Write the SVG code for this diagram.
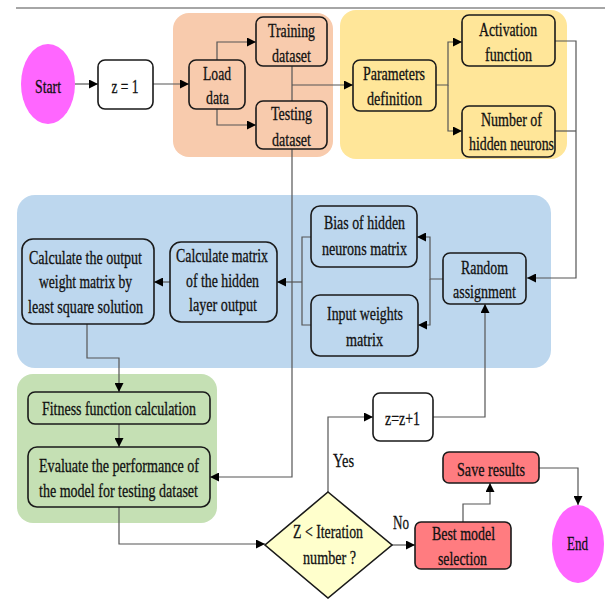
<svg xmlns="http://www.w3.org/2000/svg" width="613" height="599" viewBox="0 0 613 599">
<defs>
<style>
text{font-family:'Liberation Serif','Times New Roman',serif;font-size:19px;fill:#111;stroke:#111;stroke-width:0.3;text-anchor:middle}
.n{fill:none;stroke:#1a1a1a;stroke-width:1.6}
.w{fill:#fff;stroke:#1a1a1a;stroke-width:1.6}
.r{fill:#FF7C80;stroke:#1a1a1a;stroke-width:1.6}
.c{fill:none;stroke:#555;stroke-width:1.2}
.a{marker-end:url(#arr)}
</style>
<marker id="arr" viewBox="0 0 10 10" refX="10" refY="5" markerWidth="9" markerHeight="9" markerUnits="userSpaceOnUse" orient="auto">
<path d="M0,0 L10,5 L0,10 Z" fill="#000"/>
</marker>
</defs>
<rect width="613" height="599" fill="#fff"/>
<path d="M16,8 H605" stroke="#888" stroke-width="1.5" fill="none"/>
<g id="backgrounds">
<rect x="173" y="13" width="160" height="144" rx="16" fill="#F8CBAD"/>
<rect x="340" y="10" width="227" height="149" rx="16" fill="#FFE699"/>
<rect x="17" y="195" width="534" height="173" rx="18" fill="#BDD7EE"/>
<rect x="17" y="374" width="200" height="149" rx="16" fill="#C5E0B4"/>
</g>
<g id="connectors">
<path class="c a" d="M75,84 H98"/>
<path class="c a" d="M153,84 H189"/>
<path class="c a" d="M217,60 V42 H256"/>
<path class="c a" d="M217,109 V125 H256"/>
<path class="c" d="M292,66 V101"/>
<path class="c a" d="M292,85 H353"/>
<path class="c a" d="M292,149 V477 H210"/>
<path class="c a" d="M436,85 H448 V42 H462"/>
<path class="c a" d="M448,85 V131 H462"/>
<path class="c a" d="M555,41 H576 V278 H527"/>
<path class="c" d="M555,131 H576"/>
<path class="c a" d="M443,279 H430 V237 H417"/>
<path class="c a" d="M430,279 V325 H418"/>
<path class="c" d="M311,237 H302 V325 H311"/>
<path class="c a" d="M302,282 H277"/>
<path class="c a" d="M170,282 H154"/>
<path class="c a" d="M87,324 V358 H119 V392"/>
<path class="c a" d="M119,424 V447"/>
<path class="c a" d="M119,507 V544 H265"/>
<path class="c a" d="M328,492 V417 H373"/>
<path class="c a" d="M433,417 H485 V304"/>
<path class="c a" d="M392,545 H415"/>
<path class="c a" d="M463,522 V504 H490 V483"/>
<path class="c a" d="M539,468 H578 V505"/>
<text x="343.5" y="467" textLength="21" lengthAdjust="spacingAndGlyphs">Yes</text>
<text x="401" y="529" textLength="16" lengthAdjust="spacingAndGlyphs">No</text>
</g>
<g id="start">
<ellipse cx="48" cy="84" rx="27" ry="40" fill="#FF66FF"/>
<text x="48" y="93" textLength="26" lengthAdjust="spacingAndGlyphs">Start</text>
</g>
<g id="z1">
<rect class="w" x="98" y="60" width="55" height="49" rx="7"/>
<text x="125" y="93" textLength="27" lengthAdjust="spacingAndGlyphs">z = 1</text>
</g>
<g id="load">
<rect class="n" x="189" y="60" width="56" height="49" rx="7"/>
<text x="217" y="80" textLength="28" lengthAdjust="spacingAndGlyphs">Load</text>
<text x="217.5" y="104" textLength="23" lengthAdjust="spacingAndGlyphs">data</text>
</g>
<g id="training">
<rect class="n" x="256" y="17" width="71" height="49" rx="7"/>
<text x="291.5" y="37" textLength="47" lengthAdjust="spacingAndGlyphs">Training</text>
<text x="291.5" y="62" textLength="39" lengthAdjust="spacingAndGlyphs">dataset</text>
</g>
<g id="testing">
<rect class="n" x="256" y="101" width="71" height="48" rx="7"/>
<text x="291.5" y="120" textLength="41" lengthAdjust="spacingAndGlyphs">Testing</text>
<text x="291.5" y="146" textLength="39" lengthAdjust="spacingAndGlyphs">dataset</text>
</g>
<g id="params">
<rect class="n" x="353" y="60" width="83" height="51" rx="7"/>
<text x="394" y="80" textLength="62" lengthAdjust="spacingAndGlyphs">Parameters</text>
<text x="394.5" y="105" textLength="55" lengthAdjust="spacingAndGlyphs">definition</text>
</g>
<g id="activation">
<rect class="n" x="462" y="15" width="93" height="51" rx="7"/>
<text x="508" y="36" textLength="58" lengthAdjust="spacingAndGlyphs">Activation</text>
<text x="508.5" y="61" textLength="47" lengthAdjust="spacingAndGlyphs">function</text>
</g>
<g id="neurons">
<rect class="n" x="462" y="106" width="93" height="51" rx="7"/>
<text x="511.5" y="126" textLength="61" lengthAdjust="spacingAndGlyphs">Number of</text>
<text x="511.5" y="150" textLength="85" lengthAdjust="spacingAndGlyphs">hidden neurons</text>
</g>
<g id="random">
<rect class="n" x="443" y="253" width="83" height="51" rx="7"/>
<text x="484.5" y="274" textLength="47" lengthAdjust="spacingAndGlyphs">Random</text>
<text x="484.5" y="298" textLength="63" lengthAdjust="spacingAndGlyphs">assignment</text>
</g>
<g id="bias">
<rect class="n" x="311" y="206" width="106" height="61" rx="9"/>
<text x="364.5" y="229" textLength="81" lengthAdjust="spacingAndGlyphs">Bias of hidden</text>
<text x="364.5" y="255" textLength="85" lengthAdjust="spacingAndGlyphs">neurons matrix</text>
</g>
<g id="inputw">
<rect class="n" x="311" y="295" width="107" height="61" rx="9"/>
<text x="365" y="320" textLength="76" lengthAdjust="spacingAndGlyphs">Input weights</text>
<text x="364.5" y="346" textLength="37" lengthAdjust="spacingAndGlyphs">matrix</text>
</g>
<g id="hiddenout">
<rect class="n" x="170" y="242" width="107" height="80" rx="11"/>
<text x="222" y="262" textLength="92" lengthAdjust="spacingAndGlyphs">Calculate matrix</text>
<text x="222.5" y="287" textLength="73" lengthAdjust="spacingAndGlyphs">of the hidden</text>
<text x="223" y="311" textLength="68" lengthAdjust="spacingAndGlyphs">layer output</text>
</g>
<g id="outweight">
<rect class="n" x="22" y="239" width="132" height="85" rx="11"/>
<text x="85.5" y="264" textLength="113" lengthAdjust="spacingAndGlyphs">Calculate the output</text>
<text x="85.5" y="288" textLength="93" lengthAdjust="spacingAndGlyphs">weight matrix by</text>
<text x="85.5" y="313" textLength="115" lengthAdjust="spacingAndGlyphs">least square solution</text>
</g>
<g id="fitness">
<rect class="n" x="28" y="392" width="182" height="32" rx="7"/>
<text x="119" y="415" textLength="154" lengthAdjust="spacingAndGlyphs">Fitness function calculation</text>
</g>
<g id="evaluate">
<rect class="n" x="28" y="447" width="182" height="60" rx="9"/>
<text x="119" y="472" textLength="160" lengthAdjust="spacingAndGlyphs">Evaluate the performance of</text>
<text x="118.5" y="497" textLength="159" lengthAdjust="spacingAndGlyphs">the model for testing dataset</text>
</g>
<g id="decision">
<polygon points="328,492 392,545 328,598 265,545" fill="#FFFFCC" stroke="#1a1a1a" stroke-width="1.6"/>
<text x="328" y="538" textLength="70" lengthAdjust="spacingAndGlyphs">Z &lt; Iteration</text>
<text x="329.5" y="564" textLength="53" lengthAdjust="spacingAndGlyphs">number ?</text>
</g>
<g id="zinc">
<rect class="w" x="373" y="393" width="60" height="48" rx="7"/>
<text x="402.5" y="425" textLength="35" lengthAdjust="spacingAndGlyphs">z=z+1</text>
</g>
<g id="best">
<rect class="r" x="415" y="522" width="96" height="47" rx="6"/>
<text x="463.5" y="540" textLength="63" lengthAdjust="spacingAndGlyphs">Best model</text>
<text x="462.5" y="565" textLength="49" lengthAdjust="spacingAndGlyphs">selection</text>
</g>
<g id="save">
<rect class="r" x="443" y="452" width="96" height="31" rx="6"/>
<text x="491" y="476" textLength="68" lengthAdjust="spacingAndGlyphs">Save results</text>
</g>
<g id="end">
<ellipse cx="578" cy="544" rx="26" ry="39" fill="#FF66FF"/>
<text x="577.5" y="550" textLength="21" lengthAdjust="spacingAndGlyphs">End</text>
</g>
</svg>
